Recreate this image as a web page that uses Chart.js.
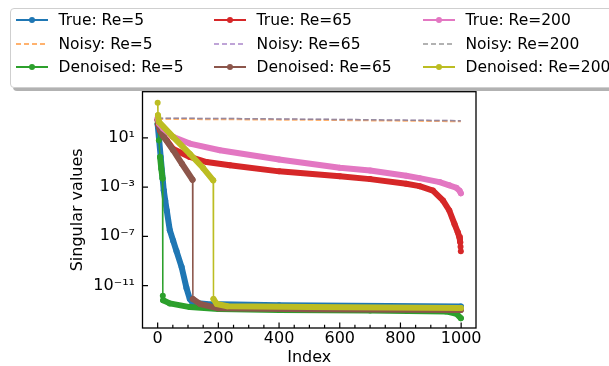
<!DOCTYPE html>
<html>
<head>
<meta charset="utf-8">
<script src="https://cdn.jsdelivr.net/npm/chart.js@4/dist/chart.umd.min.js"></script>
<style>
html,body{margin:0;padding:0;background:#fff;overflow:hidden}
#wrap{position:relative;width:609px;height:366px}
#c{position:absolute;left:0;top:0}
#legend{position:absolute;left:10px;top:8px;width:640px;height:78px;border:1px solid #cfcfcf;border-radius:4px;background:rgba(255,255,255,0.85);box-shadow:3px 3px 0 rgba(0,0,0,0.3);font-family:"DejaVu Sans",sans-serif;font-size:15.5px;color:#000;z-index:2}
.item{position:absolute;height:20px;display:flex;align-items:center;white-space:nowrap}
.sym{position:relative;width:32px;height:20px;margin-right:11px;flex:none}
.sym .ln{position:absolute;left:0;right:0;top:9px;height:2px}
.sym .dot{position:absolute;left:13px;top:7px;width:6px;height:6px;border-radius:50%}
</style>
</head>
<body>
<div id="wrap">
  <canvas id="c" width="609" height="366"></canvas>
  <div id="legend"></div>
</div>
<script>
// ---------------- data ----------------
const xTickValues = [0, 200, 400, 600, 800, 1000];
const xMinorTickValues = [0, 50, 100, 150, 200, 250, 300, 350, 400, 450, 500, 550, 600, 650, 700, 750, 800, 850, 900, 950, 1000];
const yTickValues = [1e1, 1e-3, 1e-7, 1e-11];
const yTickLabels = ['10\u00B9', '10\u207B\u00B3', '10\u207B\u2077', '10\u207B\u00B9\u00B9'];

const seriesLabels = ['True: Re=5', 'Noisy: Re=5', 'Denoised: Re=5',
                      'True: Re=65', 'Noisy: Re=65', 'Denoised: Re=65',
                      'True: Re=200', 'Noisy: Re=200', 'Denoised: Re=200'];

const trueRe5Idx = [0, 5, 10, 20, 25, 30, 40, 51, 62, 79, 95, 106, 115, 160, 400, 999];
const trueRe5Val = [1.26e2, 6.31e0, 2.82e-1, 5.62e-4, 7.94e-5, 1.26e-5, 3.16e-7, 4.47e-8, 6.31e-9, 3.16e-10, 6.31e-12, 7.94e-13, 3.98e-13, 3.16e-13, 2.51e-13, 2.00e-13];

const noisyRe5Idx = [0, 200, 600, 999];
const noisyRe5Val = [3.31e2, 3.16e2, 2.69e2, 2.14e2];

const denoisedRe5Idx = [0, 4, 8, 12, 16, 17, 18, 40, 106, 200, 400, 700, 950, 985, 999];
const denoisedRe5Val = [1.58e2, 6.31e0, 2.82e-1, 3.16e-2, 5.01e-3, 1.45e-12, 6.31e-13, 3.55e-13, 1.78e-13, 1.26e-13, 1.05e-13, 9.33e-14, 7.94e-14, 5.01e-14, 2.24e-14];

const trueRe65Idx = [0, 3, 8, 20, 30, 51, 106, 161, 238, 400, 600, 700, 819, 863, 907, 940, 961, 978, 989, 994, 996, 997, 998, 999];
const trueRe65Val = [2.82e2, 1.00e2, 3.98e1, 1.26e1, 6.31e0, 1.26e0, 2.82e-1, 1.10e-1, 5.89e-2, 1.91e-2, 7.59e-3, 4.47e-3, 1.86e-3, 1.20e-3, 5.25e-4, 8.32e-5, 1.26e-5, 1.02e-6, 2.14e-7, 8.91e-8, 5.01e-8, 3.24e-8, 1.45e-8, 6.03e-9];

const noisyRe65Idx = [0, 200, 600, 999];
const noisyRe65Val = [3.98e2, 3.80e2, 3.16e2, 2.51e2];

const denoisedRe65Idx = [0, 5, 20, 51, 80, 115, 116, 140, 200, 500, 999];
const denoisedRe65Val = [2.82e2, 7.08e1, 1.26e1, 1.00e0, 7.94e-2, 3.98e-3, 7.94e-13, 3.16e-13, 1.41e-13, 1.20e-13, 1.05e-13];

const trueRe200Idx = [0, 5, 18, 50, 106, 205, 400, 600, 700, 819, 863, 929, 961, 984, 995, 999];
const trueRe200Val = [3.98e2, 1.41e2, 5.89e1, 1.26e1, 3.47e0, 1.00e0, 1.78e-1, 3.80e-2, 2.24e-2, 8.32e-3, 5.37e-3, 2.57e-3, 1.41e-3, 8.91e-4, 5.01e-4, 3.16e-4];

const noisyRe200Idx = [0, 200, 600, 999];
const noisyRe200Val = [3.98e2, 3.80e2, 3.16e2, 2.51e2];

const denoisedRe200Idx = [0, 1, 4, 50, 106, 150, 183, 184, 195, 230, 500, 999];
const denoisedRe200Val = [7.24e3, 7.08e2, 2.00e2, 1.26e1, 5.01e-1, 3.55e-2, 3.55e-3, 7.94e-13, 3.16e-13, 2.09e-13, 1.78e-13, 1.51e-13];

// ---------------- styles ----------------
const seriesIdx = [trueRe5Idx, noisyRe5Idx, denoisedRe5Idx, trueRe65Idx, noisyRe65Idx, denoisedRe65Idx, trueRe200Idx, noisyRe200Idx, denoisedRe200Idx];
const seriesVal = [trueRe5Val, noisyRe5Val, denoisedRe5Val, trueRe65Val, noisyRe65Val, denoisedRe65Val, trueRe200Val, noisyRe200Val, denoisedRe200Val];
const seriesColors = ['#1f77b4', 'rgba(255,127,14,0.6)', '#2ca02c',
                      '#d62728', 'rgba(148,103,189,0.6)', '#8c564b',
                      '#e377c2', 'rgba(127,127,127,0.6)', '#bcbd22'];
const legendColors = ['#1f77b4', '#ffb26e', '#2ca02c',
                      '#d62728', '#bfa4d7', '#8c564b',
                      '#e377c2', '#b2b2b2', '#bcbd22'];
const seriesDashed = [false, true, false, false, true, false, false, true, false];

const FONT = 'DejaVu Sans';
const BAND = 6;

function segWidth(ctx) {
  const a = ctx.p0.parsed, b = ctx.p1.parsed;
  const step = Math.abs(Math.log10(b.y) - Math.log10(a.y)) / Math.max(1e-9, Math.abs(b.x - a.x));
  return step > 0.3 ? 1.5 : BAND;
}

const datasets = seriesLabels.map((label, i) => {
  const pts = seriesIdx[i].map((x, k) => ({x: x, y: seriesVal[i][k]}));
  const base = {
    label: label,
    data: pts,
    borderColor: seriesColors[i],
    backgroundColor: seriesColors[i],
    fill: false,
    tension: 0,
    order: seriesLabels.length - 1 - i
  };
  if (seriesDashed[i]) {
    return Object.assign(base, {borderWidth: 1.5, borderDash: [5.5, 2.4], pointRadius: 0});
  }
  return Object.assign(base, {
    borderWidth: BAND,
    borderCapStyle: 'round',
    borderJoinStyle: 'round',
    pointRadius: 3,
    pointBorderWidth: 0,
    pointBackgroundColor: seriesColors[i],
    segment: {borderWidth: segWidth}
  });
});

// ---------------- legend (HTML, real text) ----------------
const legendColLeft = [4.5, 202.6, 411.5];
const legendRowTop = [1, 24.5, 47.5];
const legendEl = document.getElementById('legend');
seriesLabels.forEach((label, i) => {
  const col = Math.floor(i / 3), row = i % 3;
  const item = document.createElement('div');
  item.className = 'item';
  item.style.left = legendColLeft[col] + 'px';
  item.style.top = legendRowTop[row] + 'px';
  const sym = document.createElement('div');
  sym.className = 'sym';
  const ln = document.createElement('div');
  ln.className = 'ln';
  const c = legendColors[i];
  if (seriesDashed[i]) {
    ln.style.background = 'repeating-linear-gradient(to right,' + c + ' 0px,' + c + ' 5.5px,transparent 5.5px,transparent 7.9px)';
  } else {
    ln.style.background = c;
  }
  sym.appendChild(ln);
  if (!seriesDashed[i]) {
    const dot = document.createElement('div');
    dot.className = 'dot';
    dot.style.background = c;
    sym.appendChild(dot);
  }
  item.appendChild(sym);
  const t = document.createElement('span');
  t.textContent = label;
  item.appendChild(t);
  legendEl.appendChild(item);
});

// ---------------- axes frame / inward ticks ----------------
const mplAxes = {
  id: 'mplAxes',
  afterDatasetsDraw(chart) {
    const {ctx, chartArea: a, scales} = chart;
    const xs = scales.x, ys = scales.y;
    ctx.save();
    ctx.strokeStyle = '#000';
    ctx.lineWidth = 1.2;
    ctx.beginPath();
    xMinorTickValues.forEach(v => {
      const px = xs.getPixelForValue(v);
      const len = xTickValues.includes(v) ? 5.5 : 3.2;
      ctx.moveTo(px, a.bottom);
      ctx.lineTo(px, a.bottom - len);
    });
    yTickValues.forEach(v => {
      const py = ys.getPixelForValue(v);
      ctx.moveTo(a.left, py);
      ctx.lineTo(a.left + 5.5, py);
    });
    ctx.stroke();
    ctx.lineWidth = 1.3;
    ctx.strokeRect(a.left, a.top, a.right - a.left, a.bottom - a.top);
    ctx.restore();
  }
};

new Chart(document.getElementById('c'), {
  type: 'line',
  data: {datasets: datasets},
  plugins: [mplAxes],
  options: {
    responsive: false,
    animation: false,
    devicePixelRatio: 1,
    layout: {padding: {left: 0, right: 133, top: 91.7, bottom: 0}},
    plugins: {legend: {display: false}, tooltip: {enabled: false}},
    scales: {
      x: {
        type: 'linear',
        min: -49.95,
        max: 1048.95,
        afterBuildTicks: s => { s.ticks = xTickValues.map(v => ({value: v})); },
        afterFit: s => { s.height = 38; },
        grid: {display: false, drawTicks: false},
        border: {display: false},
        ticks: {autoSkip: false, maxRotation: 0, padding: 1.5, color: '#000',
                font: {family: FONT, size: 16},
                callback: v => String(v)},
        title: {display: true, text: 'Index', color: '#000',
                font: {family: FONT, size: 16, lineHeight: 1}, padding: 0}
      },
      y: {
        type: 'logarithmic',
        min: 3.55e-15,
        max: 5.69e4,
        afterBuildTicks: s => { s.ticks = yTickValues.map(v => ({value: v})); },
        afterFit: s => { s.width = 142.5; },
        grid: {display: false, drawTicks: false},
        border: {display: false},
        ticks: {autoSkip: false, padding: 7.5, color: '#000',
                font: {family: FONT, size: 16},
                callback: v => {
                  const k = yTickValues.findIndex(t => Math.abs(Math.log10(v / t)) < 1e-6);
                  return k >= 0 ? yTickLabels[k] : '';
                }},
        title: {display: true, text: 'Singular values', color: '#000',
                font: {family: FONT, size: 16, lineHeight: 1.2}, padding: {top: 68.7, bottom: 0}}
      }
    }
  }
});
</script>
</body>
</html>
